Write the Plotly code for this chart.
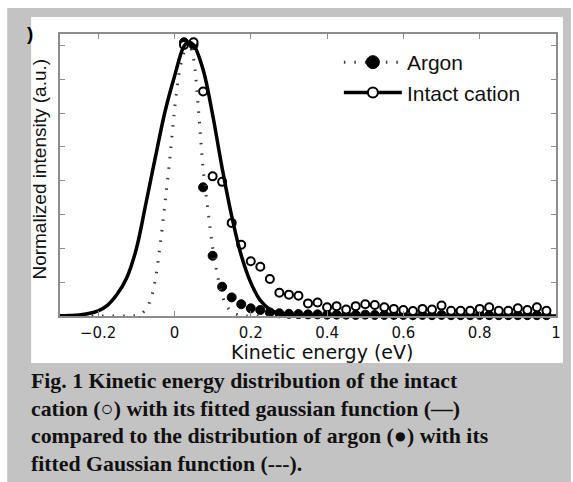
import plotly.graph_objects as go

# Measured kinetic-energy distributions (normalised to the peak)
energy = [0.025, 0.05, 0.075, 0.1, 0.125, 0.15, 0.175, 0.2, 0.225, 0.25,
          0.275, 0.3, 0.325, 0.35, 0.375, 0.4, 0.425, 0.45, 0.475, 0.5,
          0.525, 0.55, 0.575, 0.6, 0.625, 0.65, 0.675, 0.7, 0.725, 0.75,
          0.775, 0.8, 0.825, 0.85, 0.875, 0.9, 0.925, 0.95, 0.975]
argon = [1.00, 0.99, 0.47, 0.22, 0.107, 0.068, 0.043, 0.028, 0.022, 0.013,
         0.010, 0.008, 0.007, 0.006, 0.006, 0.005, 0.005, 0.005, 0.004, 0.005,
         0.004, 0.004, 0.004, 0.004, 0.003, 0.004, 0.003, 0.004, 0.003, 0.003,
         0.003, 0.004, 0.003, 0.003, 0.003, 0.003, 0.003, 0.003, 0.003]
cation = [0.99, 1.00, 0.82, 0.51, 0.49, 0.34, 0.26, 0.20, 0.18, 0.135,
          0.085, 0.078, 0.074, 0.046, 0.049, 0.032, 0.036, 0.024, 0.036, 0.043,
          0.040, 0.032, 0.026, 0.022, 0.018, 0.026, 0.024, 0.038, 0.019, 0.019,
          0.019, 0.026, 0.032, 0.019, 0.019, 0.028, 0.022, 0.032, 0.019]

# Fitted curves
fit_cation_x = [-0.3, -0.275, -0.25, -0.225, -0.2, -0.175, -0.15, -0.125, -0.1,
                -0.075, -0.05, -0.025, 0.0, 0.025, 0.0375, 0.05, 0.075, 0.1,
                0.125, 0.15, 0.175, 0.2, 0.225, 0.25, 0.275, 0.3, 0.35, 0.4,
                0.5, 0.6, 0.7, 0.8, 0.9, 1.0]
fit_cation_y = [0.001, 0.002, 0.004, 0.009, 0.019, 0.040, 0.080, 0.140, 0.245,
                0.410, 0.580, 0.745, 0.875, 0.985, 1.0, 0.99, 0.90, 0.735,
                0.54, 0.365, 0.222, 0.122, 0.057, 0.024, 0.009, 0.003, 0.0005, 0.0,
                0.0, 0.0, 0.0, 0.0, 0.0, 0.0]
fit_argon_x = [-0.3, -0.2, -0.125, -0.1, -0.0875, -0.075, -0.0625, -0.05, -0.0375,
               -0.025, -0.0125, 0.0, 0.0125, 0.025, 0.0325, 0.04, 0.05, 0.0625,
               0.075, 0.0875, 0.1, 0.1125, 0.125, 0.1375, 0.15, 0.175, 0.2, 0.3,
               0.5, 0.75, 1.0]
fit_argon_y = [0.0, 0.0, 0.0, 0.002, 0.008, 0.025, 0.06, 0.135, 0.26,
               0.41, 0.57, 0.75, 0.89, 0.965, 1.0, 0.99, 0.94, 0.76,
               0.54, 0.39, 0.25, 0.15, 0.075, 0.035, 0.015, 0.002, 0.0, 0.0,
               0.0, 0.0, 0.0]

x_ticks = [-0.2, 0, 0.2, 0.4, 0.6, 0.8, 1]
x_tick_labels = ["\u22120.2", "0", "0.2", "0.4", "0.6", "0.8", "1"]

caption_lines = [
    "Fig. 1 Kinetic energy distribution of the intact",
    "cation (\u25cb) with its fitted gaussian function (\u2014)",
    "compared to the distribution of argon (\u25cf) with its",
    "fitted Gaussian function (---).",
]

W, H = 573, 482
L, R, T, B = 60, 558, 34, 316


def px(xp):
    return (xp - L) / (R - L)


def py(yp):
    return (B - yp) / (B - T)


GRAY_AX = "#8c8c8c"
DOT = dict(color="#3a3a3a", width=3, dash="1.5px,9px")
SOLID = dict(color="black", width=3.5)
FILLED = dict(symbol="circle", size=9, color="black", line=dict(color="black", width=1))
OPEN = dict(symbol="circle", size=8, color="white", line=dict(color="black", width=2))

fig = go.Figure()

fig.add_trace(go.Scatter(x=energy, y=argon, mode="markers", marker=FILLED,
                         showlegend=False, cliponaxis=False))
fig.add_trace(go.Scatter(x=energy, y=cation, mode="markers", marker=OPEN,
                         showlegend=False, cliponaxis=False))
fig.add_trace(go.Scatter(x=fit_argon_x, y=fit_argon_y, mode="lines", line=DOT,
                         line_shape="spline", showlegend=False, cliponaxis=False))
fig.add_trace(go.Scatter(x=fit_cation_x, y=fit_cation_y, mode="lines", line=SOLID,
                         line_shape="spline", showlegend=False, cliponaxis=False))

# legend entries (line + marker combined)
fig.add_trace(go.Scatter(x=[None], y=[None], mode="lines+markers", name="Argon",
                         line=DOT, marker=dict(FILLED, size=13)))
fig.add_trace(go.Scatter(x=[None], y=[None], mode="lines+markers", name="Intact cation",
                         line=SOLID, marker=dict(OPEN, size=10)))

shapes = [
    dict(type="rect", xref="paper", yref="paper", layer="below",
         x0=px(7), x1=px(W), y0=py(8), y1=py(H),
         fillcolor="#c3c3c3", line=dict(width=0)),
    dict(type="rect", xref="paper", yref="paper", layer="below",
         x0=px(31), x1=px(565), y0=py(17), y1=py(363),
         fillcolor="white", line=dict(width=0)),
]

annotations = [
    dict(text="Normalized intensity (a.u.)", textangle=-90, showarrow=False,
         xref="paper", yref="paper", x=px(38.5), y=py(169),
         xanchor="center", yanchor="middle",
         font=dict(family="Liberation Sans", size=19, color="#111")),
    dict(text="Kinetic energy (eV)", showarrow=False,
         xref="paper", yref="paper", x=px(323), y=py(352),
         xanchor="center", yanchor="middle",
         font=dict(family="DejaVu Sans", size=19, color="#111")),
    dict(text="<b>)</b>", showarrow=False, xref="paper", yref="paper",
         x=px(35), y=py(33), xanchor="right", yanchor="middle",
         font=dict(family="Liberation Sans", size=19, color="black")),
]
for i, line in enumerate(caption_lines):
    annotations.append(dict(
        text="<b>" + line + "</b>", showarrow=False, xref="paper", yref="paper",
        x=px(29), y=py(381 + 27.5 * i), xanchor="left", yanchor="middle",
        font=dict(family="Liberation Serif", size=21.8, color="#111")))

fig.update_layout(
    width=W, height=H,
    margin=dict(l=L, r=W - R, t=T, b=H - B, pad=0),
    paper_bgcolor="white", plot_bgcolor="white",
    shapes=shapes, annotations=annotations,
    showlegend=True,
    legend=dict(x=px(340), y=py(42), xanchor="left", yanchor="top",
                bgcolor="rgba(0,0,0,0)", borderwidth=0, itemwidth=58,
                tracegroupgap=0,
                font=dict(family="Liberation Sans", size=21, color="#111")),
    xaxis=dict(range=[-0.3, 1], tickvals=x_ticks, ticktext=x_tick_labels,
               showgrid=False, zeroline=False, showline=True, mirror="ticks",
               linecolor=GRAY_AX, linewidth=1.5, ticks="inside", ticklen=5,
               tickcolor=GRAY_AX, tickwidth=1, ticklabelstandoff=2,
               tickfont=dict(family="DejaVu Sans", size=15, color="#111")),
    yaxis=dict(range=[0, 1.03], tick0=0, dtick=0.1235, showticklabels=False,
               showgrid=False, zeroline=False, showline=True, mirror="ticks",
               linecolor=GRAY_AX, linewidth=1.5, ticks="inside", ticklen=5,
               tickcolor=GRAY_AX, tickwidth=1),
)

fig.write_html("out.html")
